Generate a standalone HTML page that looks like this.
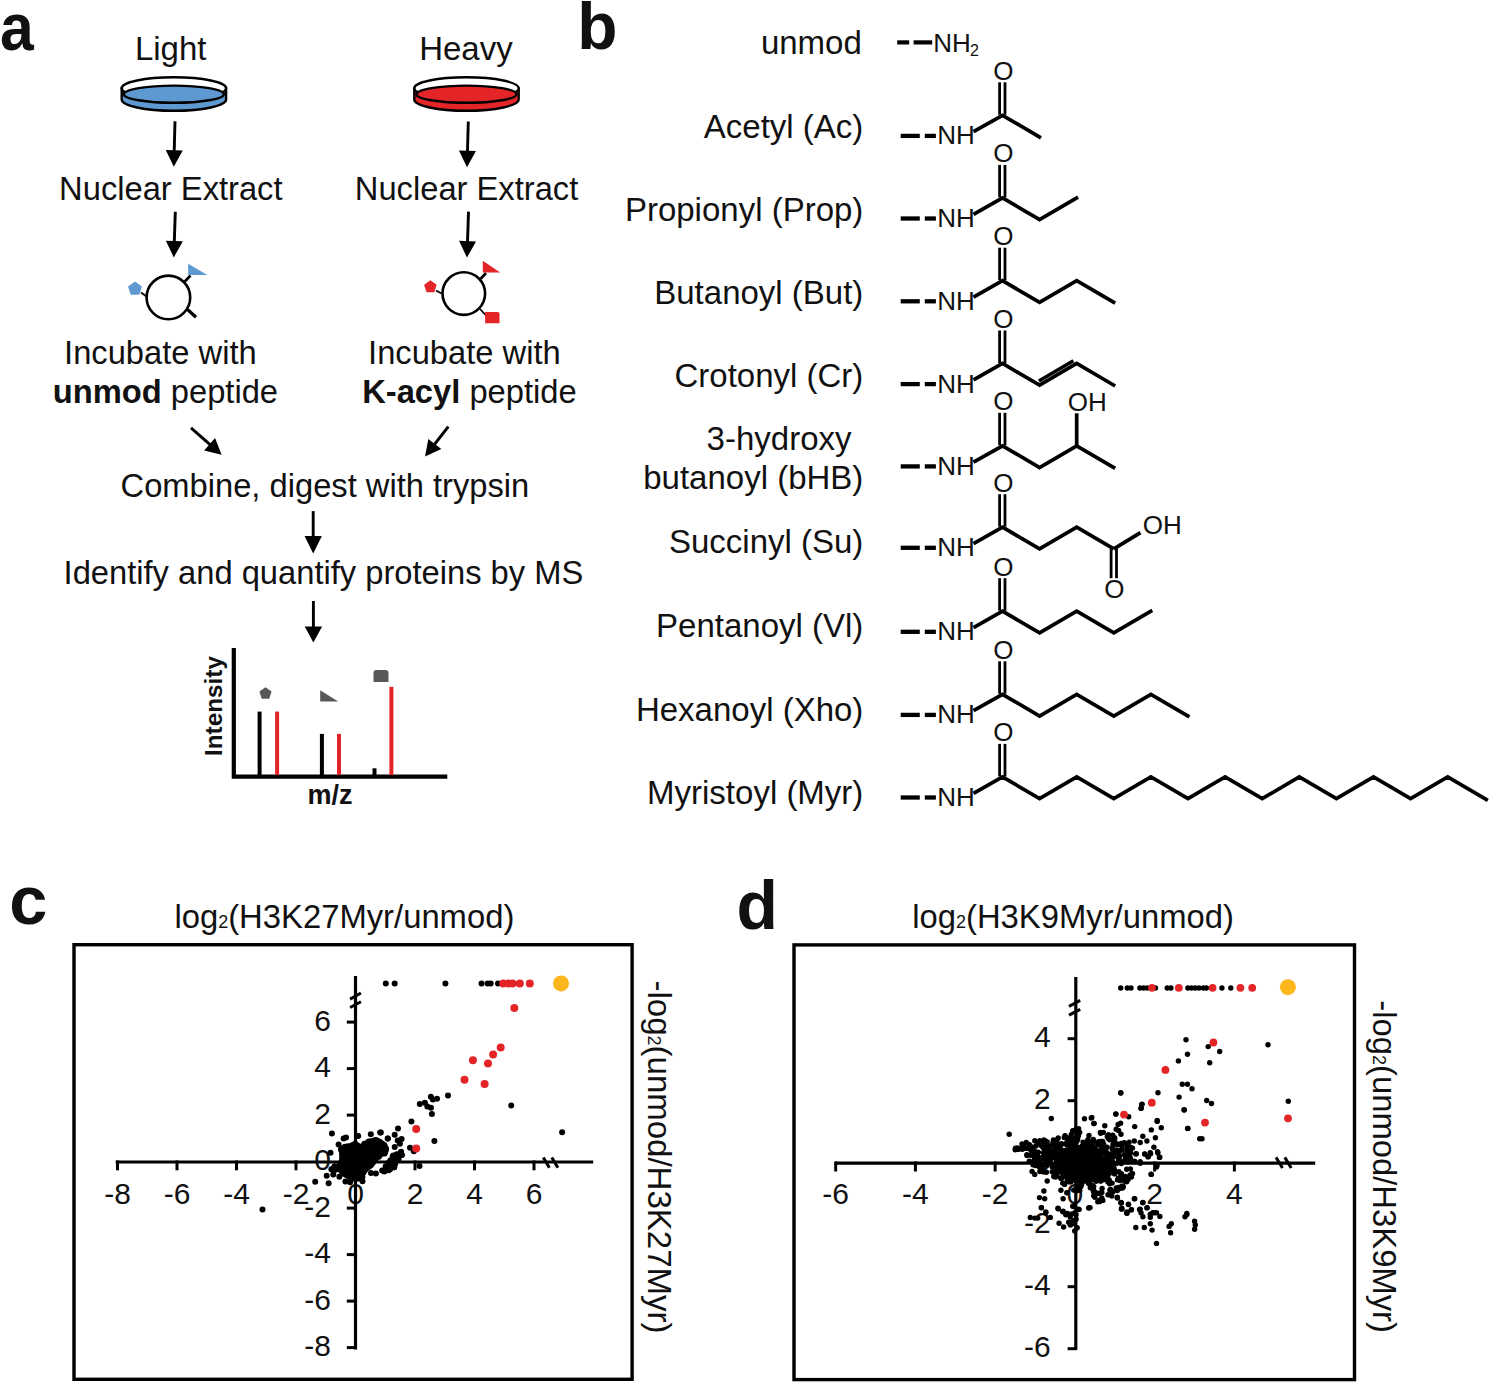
<!DOCTYPE html>
<html><head><meta charset="utf-8"><style>
html,body{margin:0;padding:0;background:#fff;}
svg{display:block;}
text{font-family:"Liberation Sans",sans-serif;fill:#111;}
</style></head><body>
<svg width="1489" height="1382" viewBox="0 0 1489 1382">
<rect width="1489" height="1382" fill="#fff"/>
<text transform="translate(0.1,50.3) scale(0.905,1)" font-size="67" font-weight="bold" fill="#1d1b1b">a</text>
<text x="577.2" y="48.6" font-size="65.8" font-weight="bold" fill="#1d1b1b">b</text>
<text x="134.89" y="60.40" font-size="33">Light</text>
<text x="419.19" y="60.20" font-size="33">Heavy</text>
<path d="M121.70,88.5 L121.70,99.5 A52.2,11.3 0 0 0 226.10,99.5 L226.10,88.5 Z" fill="#5e9ad1" stroke="#000" stroke-width="2.4"/>
<ellipse cx="173.90" cy="88.3" rx="52.2" ry="11" fill="#fff" stroke="#000" stroke-width="2.4"/>
<ellipse cx="173.90" cy="94.2" rx="50.00" ry="8.6" fill="#5e9ad1" stroke="#000" stroke-width="2.4"/>
<path d="M414.30,88.5 L414.30,99.5 A52.2,11.3 0 0 0 518.70,99.5 L518.70,88.5 Z" fill="#e32527" stroke="#000" stroke-width="2.4"/>
<ellipse cx="466.50" cy="88.3" rx="52.2" ry="11" fill="#fff" stroke="#000" stroke-width="2.4"/>
<ellipse cx="466.50" cy="94.2" rx="50.00" ry="8.6" fill="#e32527" stroke="#000" stroke-width="2.4"/>
<line x1="175.00" y1="121.30" x2="174.21" y2="151.31" stroke="#000" stroke-width="2.9" stroke-linecap="butt"/>
<polygon points="173.80,166.80 165.74,150.08 182.73,150.53" fill="#000"/>
<line x1="468.30" y1="121.50" x2="467.44" y2="151.81" stroke="#000" stroke-width="2.9" stroke-linecap="butt"/>
<polygon points="467.00,167.30 458.97,150.57 475.96,151.05" fill="#000"/>
<text x="59.12" y="199.90" font-size="32.7">Nuclear Extract</text>
<text x="354.82" y="199.90" font-size="32.7">Nuclear Extract</text>
<line x1="175.30" y1="211.80" x2="174.31" y2="241.91" stroke="#000" stroke-width="2.9" stroke-linecap="butt"/>
<polygon points="173.80,257.40 165.85,240.63 182.84,241.19" fill="#000"/>
<line x1="468.50" y1="211.60" x2="467.51" y2="242.11" stroke="#000" stroke-width="2.9" stroke-linecap="butt"/>
<polygon points="467.00,257.60 459.04,240.83 476.03,241.39" fill="#000"/>
<line x1="141.00" y1="292.50" x2="146.50" y2="296.50" stroke="#000" stroke-width="1.8" stroke-linecap="butt"/>
<polygon points="135.00,281.50 141.94,286.54 139.29,294.71 130.71,294.71 128.06,286.54" fill="#5e9ad1"/>
<line x1="184.80" y1="281.50" x2="190.50" y2="275.50" stroke="#000" stroke-width="2.6" stroke-linecap="butt"/>
<polygon points="188.2,263.8 188.2,275 207.3,275" fill="#5e9ad1"/>
<line x1="187.50" y1="309.50" x2="196.00" y2="317.30" stroke="#000" stroke-width="3.2" stroke-linecap="butt"/>
<circle cx="168.4" cy="297.4" r="21.8" fill="#fff" stroke="#000" stroke-width="2.6"/>
<line x1="436.00" y1="290.50" x2="441.50" y2="293.50" stroke="#000" stroke-width="1.8" stroke-linecap="butt"/>
<polygon points="430.40,280.20 436.68,284.76 434.28,292.14 426.52,292.14 424.12,284.76" fill="#e32527"/>
<line x1="480.50" y1="279.00" x2="486.00" y2="273.00" stroke="#000" stroke-width="2.6" stroke-linecap="butt"/>
<polygon points="482.8,260.7 482.8,272.4 500.2,272.4" fill="#e32527"/>
<line x1="480.00" y1="309.00" x2="486.50" y2="316.00" stroke="#000" stroke-width="1.8" stroke-linecap="butt"/>
<path d="M485.1,312 L497.5,312 Q499.5,312 499.5,314 L499.5,323.2 L485.1,323.2 Z" fill="#e32527"/>
<circle cx="463.8" cy="293.6" r="21.3" fill="#fff" stroke="#000" stroke-width="2.6"/>
<text x="64.08" y="364.00" font-size="32.7">Incubate with</text>
<text x="368.08" y="364.00" font-size="32.7">Incubate with</text>
<text x="52.77" y="402.5" font-size="32.7"><tspan font-weight="bold">unmod</tspan> peptide</text>
<text x="362.21" y="402.5" font-size="32.7"><tspan font-weight="bold">K-acyl</tspan> peptide</text>
<line x1="191.00" y1="427.80" x2="210.35" y2="444.88" stroke="#000" stroke-width="2.9" stroke-linecap="butt"/>
<polygon points="221.60,454.80 204.14,450.40 215.06,438.03" fill="#000"/>
<line x1="448.30" y1="426.60" x2="434.20" y2="444.75" stroke="#000" stroke-width="2.9" stroke-linecap="butt"/>
<polygon points="425.00,456.60 428.30,438.90 441.33,449.02" fill="#000"/>
<text x="120.54" y="497.20" font-size="32.7">Combine, digest with trypsin</text>
<line x1="313.20" y1="511.10" x2="313.20" y2="537.00" stroke="#000" stroke-width="2.9" stroke-linecap="butt"/>
<polygon points="313.20,553.50 304.55,536.00 321.85,536.00" fill="#000"/>
<text x="63.58" y="583.70" font-size="32.7">Identify and quantify proteins by MS</text>
<line x1="313.40" y1="601.00" x2="313.40" y2="627.40" stroke="#000" stroke-width="2.9" stroke-linecap="butt"/>
<polygon points="313.40,642.40 304.70,626.40 322.10,626.40" fill="#000"/>
<path d="M233.8,647.9 L233.8,776.6 L447.3,776.6" fill="none" stroke="#000" stroke-width="4.2" stroke-linejoin="miter"/>
<line x1="259.60" y1="711.60" x2="259.60" y2="775.00" stroke="#000" stroke-width="4.0" stroke-linecap="butt"/>
<line x1="277.10" y1="711.60" x2="277.10" y2="775.00" stroke="#e32527" stroke-width="4.0" stroke-linecap="butt"/>
<line x1="321.90" y1="733.90" x2="321.90" y2="775.00" stroke="#000" stroke-width="4.0" stroke-linecap="butt"/>
<line x1="339.00" y1="733.90" x2="339.00" y2="775.00" stroke="#e32527" stroke-width="4.0" stroke-linecap="butt"/>
<line x1="374.50" y1="768.30" x2="374.50" y2="775.00" stroke="#000" stroke-width="4.0" stroke-linecap="butt"/>
<line x1="391.40" y1="686.80" x2="391.40" y2="775.00" stroke="#e32527" stroke-width="4.0" stroke-linecap="butt"/>
<polygon points="265.50,687.20 271.59,691.62 269.26,698.78 261.74,698.78 259.41,691.62" fill="#58585a"/>
<polygon points="320.2,690.3 320.2,701.5 338.2,701.5" fill="#58585a"/>
<path d="M373.5,681.9 L373.5,673 Q373.5,670 376.5,670 L385.5,670 Q388.5,670 388.5,673 L388.5,681.9 Z" fill="#58585a"/>
<text transform="translate(222.3,756.0) rotate(-90)" font-size="24.3" font-weight="bold" fill="#000">Intensity</text>
<text x="307.62" y="803.50" font-size="27" font-weight="bold">m/z</text>
<text x="760.90" y="53.70" font-size="33">unmod</text>
<text x="703.83" y="137.50" font-size="33">Acetyl (Ac)</text>
<text x="624.92" y="220.60" font-size="33">Propionyl (Prop)</text>
<text x="654.25" y="303.70" font-size="33">Butanoyl (But)</text>
<text x="674.50" y="387.10" font-size="33">Crotonyl (Cr)</text>
<text x="706.61" y="450.30" font-size="33">3-hydroxy</text>
<text x="643.24" y="489.10" font-size="33">butanoyl (bHB)</text>
<text x="668.96" y="553.10" font-size="33">Succinyl (Su)</text>
<text x="656.08" y="636.70" font-size="33">Pentanoyl (Vl)</text>
<text x="635.91" y="720.90" font-size="33">Hexanoyl (Xho)</text>
<text x="647.06" y="803.90" font-size="33">Myristoyl (Myr)</text>
<line x1="897.20" y1="42.40" x2="909.20" y2="42.40" stroke="#000" stroke-width="4.2" stroke-linecap="butt"/>
<line x1="913.60" y1="42.40" x2="932.20" y2="42.40" stroke="#000" stroke-width="4.2" stroke-linecap="butt"/>
<text x="933.27" y="52.00" font-size="26">NH</text>
<text x="970.00" y="56.10" font-size="16">2</text>
<line x1="900.70" y1="135.90" x2="919.80" y2="135.90" stroke="#000" stroke-width="4.3" stroke-linecap="butt"/>
<line x1="924.80" y1="135.90" x2="935.90" y2="135.90" stroke="#000" stroke-width="4.3" stroke-linecap="butt"/>
<text x="937.27" y="144.30" font-size="26">NH</text>
<line x1="999.60" y1="82.30" x2="999.60" y2="114.80" stroke="#000" stroke-width="2.8" stroke-linecap="butt"/>
<line x1="1005.00" y1="82.30" x2="1005.00" y2="114.80" stroke="#000" stroke-width="2.8" stroke-linecap="butt"/>
<text x="1003.30" y="79.80" font-size="26" text-anchor="middle">O</text>
<polyline points="973.50,131.70 1002.50,115.30 1040.98,137.81" fill="none" stroke="#000" stroke-width="3.7" stroke-linejoin="miter" stroke-linecap="butt" stroke-miterlimit="10"/>
<line x1="900.70" y1="218.50" x2="919.80" y2="218.50" stroke="#000" stroke-width="4.3" stroke-linecap="butt"/>
<line x1="924.80" y1="218.50" x2="935.90" y2="218.50" stroke="#000" stroke-width="4.3" stroke-linecap="butt"/>
<text x="937.27" y="226.90" font-size="26">NH</text>
<line x1="999.60" y1="164.90" x2="999.60" y2="197.40" stroke="#000" stroke-width="2.8" stroke-linecap="butt"/>
<line x1="1005.00" y1="164.90" x2="1005.00" y2="197.40" stroke="#000" stroke-width="2.8" stroke-linecap="butt"/>
<text x="1003.30" y="162.40" font-size="26" text-anchor="middle">O</text>
<polyline points="973.50,214.30 1002.50,197.90 1039.60,219.60 1078.08,197.09" fill="none" stroke="#000" stroke-width="3.7" stroke-linejoin="miter" stroke-linecap="butt" stroke-miterlimit="10"/>
<line x1="900.70" y1="301.30" x2="919.80" y2="301.30" stroke="#000" stroke-width="4.3" stroke-linecap="butt"/>
<line x1="924.80" y1="301.30" x2="935.90" y2="301.30" stroke="#000" stroke-width="4.3" stroke-linecap="butt"/>
<text x="937.27" y="309.70" font-size="26">NH</text>
<line x1="999.60" y1="247.70" x2="999.60" y2="280.20" stroke="#000" stroke-width="2.8" stroke-linecap="butt"/>
<line x1="1005.00" y1="247.70" x2="1005.00" y2="280.20" stroke="#000" stroke-width="2.8" stroke-linecap="butt"/>
<text x="1003.30" y="245.20" font-size="26" text-anchor="middle">O</text>
<polyline points="973.50,297.10 1002.50,280.70 1039.60,302.40 1076.70,280.70 1115.18,303.21" fill="none" stroke="#000" stroke-width="3.7" stroke-linejoin="miter" stroke-linecap="butt" stroke-miterlimit="10"/>
<line x1="900.70" y1="384.10" x2="919.80" y2="384.10" stroke="#000" stroke-width="4.3" stroke-linecap="butt"/>
<line x1="924.80" y1="384.10" x2="935.90" y2="384.10" stroke="#000" stroke-width="4.3" stroke-linecap="butt"/>
<text x="937.27" y="392.50" font-size="26">NH</text>
<line x1="999.60" y1="330.50" x2="999.60" y2="363.00" stroke="#000" stroke-width="2.8" stroke-linecap="butt"/>
<line x1="1005.00" y1="330.50" x2="1005.00" y2="363.00" stroke="#000" stroke-width="2.8" stroke-linecap="butt"/>
<text x="1003.30" y="328.00" font-size="26" text-anchor="middle">O</text>
<polyline points="973.50,379.90 1002.50,363.50 1039.60,385.20 1076.70,363.50 1115.18,386.01" fill="none" stroke="#000" stroke-width="3.7" stroke-linejoin="miter" stroke-linecap="butt" stroke-miterlimit="10"/>
<line x1="1038.88" y1="380.99" x2="1073.39" y2="360.80" stroke="#000" stroke-width="3.5" stroke-linecap="butt"/>
<line x1="900.70" y1="466.40" x2="919.80" y2="466.40" stroke="#000" stroke-width="4.3" stroke-linecap="butt"/>
<line x1="924.80" y1="466.40" x2="935.90" y2="466.40" stroke="#000" stroke-width="4.3" stroke-linecap="butt"/>
<text x="937.27" y="474.80" font-size="26">NH</text>
<line x1="999.60" y1="412.80" x2="999.60" y2="445.30" stroke="#000" stroke-width="2.8" stroke-linecap="butt"/>
<line x1="1005.00" y1="412.80" x2="1005.00" y2="445.30" stroke="#000" stroke-width="2.8" stroke-linecap="butt"/>
<text x="1003.30" y="410.30" font-size="26" text-anchor="middle">O</text>
<polyline points="973.50,462.20 1002.50,445.80 1039.60,467.50 1076.70,445.80 1115.18,468.31" fill="none" stroke="#000" stroke-width="3.7" stroke-linejoin="miter" stroke-linecap="butt" stroke-miterlimit="10"/>
<line x1="1076.70" y1="445.80" x2="1076.70" y2="413.30" stroke="#000" stroke-width="3.7" stroke-linecap="butt"/>
<text x="1067.67" y="410.60" font-size="26">OH</text>
<line x1="900.70" y1="547.80" x2="919.80" y2="547.80" stroke="#000" stroke-width="4.3" stroke-linecap="butt"/>
<line x1="924.80" y1="547.80" x2="935.90" y2="547.80" stroke="#000" stroke-width="4.3" stroke-linecap="butt"/>
<text x="937.27" y="556.20" font-size="26">NH</text>
<line x1="999.60" y1="494.20" x2="999.60" y2="526.70" stroke="#000" stroke-width="2.8" stroke-linecap="butt"/>
<line x1="1005.00" y1="494.20" x2="1005.00" y2="526.70" stroke="#000" stroke-width="2.8" stroke-linecap="butt"/>
<text x="1003.30" y="491.70" font-size="26" text-anchor="middle">O</text>
<polyline points="973.50,543.60 1002.50,527.20 1039.60,548.90 1076.70,527.20 1113.80,548.90" fill="none" stroke="#000" stroke-width="3.7" stroke-linejoin="miter" stroke-linecap="butt" stroke-miterlimit="10"/>
<polyline points="1113.80,548.90 1140.50,532.70" fill="none" stroke="#000" stroke-width="3.7" stroke-linejoin="miter" stroke-linecap="butt" stroke-miterlimit="10"/>
<text x="1142.67" y="534.40" font-size="26">OH</text>
<line x1="1111.10" y1="548.90" x2="1111.10" y2="578.20" stroke="#000" stroke-width="2.8" stroke-linecap="butt"/>
<line x1="1116.50" y1="548.90" x2="1116.50" y2="578.20" stroke="#000" stroke-width="2.8" stroke-linecap="butt"/>
<text x="1114.40" y="597.70" font-size="26" text-anchor="middle">O</text>
<line x1="900.70" y1="631.80" x2="919.80" y2="631.80" stroke="#000" stroke-width="4.3" stroke-linecap="butt"/>
<line x1="924.80" y1="631.80" x2="935.90" y2="631.80" stroke="#000" stroke-width="4.3" stroke-linecap="butt"/>
<text x="937.27" y="640.20" font-size="26">NH</text>
<line x1="999.60" y1="578.20" x2="999.60" y2="610.70" stroke="#000" stroke-width="2.8" stroke-linecap="butt"/>
<line x1="1005.00" y1="578.20" x2="1005.00" y2="610.70" stroke="#000" stroke-width="2.8" stroke-linecap="butt"/>
<text x="1003.30" y="575.70" font-size="26" text-anchor="middle">O</text>
<polyline points="973.50,627.60 1002.50,611.20 1039.60,632.90 1076.70,611.20 1113.80,632.90 1152.28,610.39" fill="none" stroke="#000" stroke-width="3.7" stroke-linejoin="miter" stroke-linecap="butt" stroke-miterlimit="10"/>
<line x1="900.70" y1="714.90" x2="919.80" y2="714.90" stroke="#000" stroke-width="4.3" stroke-linecap="butt"/>
<line x1="924.80" y1="714.90" x2="935.90" y2="714.90" stroke="#000" stroke-width="4.3" stroke-linecap="butt"/>
<text x="937.27" y="723.30" font-size="26">NH</text>
<line x1="999.60" y1="661.30" x2="999.60" y2="693.80" stroke="#000" stroke-width="2.8" stroke-linecap="butt"/>
<line x1="1005.00" y1="661.30" x2="1005.00" y2="693.80" stroke="#000" stroke-width="2.8" stroke-linecap="butt"/>
<text x="1003.30" y="658.80" font-size="26" text-anchor="middle">O</text>
<polyline points="973.50,710.70 1002.50,694.30 1039.60,716.00 1076.70,694.30 1113.80,716.00 1150.90,694.30 1189.38,716.81" fill="none" stroke="#000" stroke-width="3.7" stroke-linejoin="miter" stroke-linecap="butt" stroke-miterlimit="10"/>
<line x1="900.70" y1="797.50" x2="919.80" y2="797.50" stroke="#000" stroke-width="4.3" stroke-linecap="butt"/>
<line x1="924.80" y1="797.50" x2="935.90" y2="797.50" stroke="#000" stroke-width="4.3" stroke-linecap="butt"/>
<text x="937.27" y="805.90" font-size="26">NH</text>
<line x1="999.60" y1="743.90" x2="999.60" y2="776.40" stroke="#000" stroke-width="2.8" stroke-linecap="butt"/>
<line x1="1005.00" y1="743.90" x2="1005.00" y2="776.40" stroke="#000" stroke-width="2.8" stroke-linecap="butt"/>
<text x="1003.30" y="741.40" font-size="26" text-anchor="middle">O</text>
<polyline points="973.50,793.30 1002.50,776.90 1039.60,798.60 1076.70,776.90 1113.80,798.60 1150.90,776.90 1188.00,798.60 1225.10,776.90 1262.20,798.60 1299.30,776.90 1336.40,798.60 1373.50,776.90 1410.60,798.60 1447.70,776.90 1487.82,800.37" fill="none" stroke="#000" stroke-width="3.7" stroke-linejoin="miter" stroke-linecap="butt" stroke-miterlimit="10"/>
<text x="9.2" y="924.4" font-size="68.5" font-weight="bold" fill="#1d1b1b">c</text>
<text x="174.40" y="927.5" font-size="32.8">log<tspan font-size="18">2</tspan>(H3K27Myr/unmod)</text>
<rect x="74" y="944.7" width="558.1" height="434.6" fill="none" stroke="#000" stroke-width="3.4"/>
<text transform="translate(648.3,980.5) rotate(90)" font-size="33">-log<tspan font-size="18">2</tspan>(unmod/H3K27Myr)</text>
<line x1="115.70" y1="1162.00" x2="593.20" y2="1162.00" stroke="#000" stroke-width="3.2" stroke-linecap="butt"/>
<line x1="117.50" y1="1160.50" x2="117.50" y2="1170.30" stroke="#000" stroke-width="3.0" stroke-linecap="butt"/>
<text x="117.50" y="1203.90" font-size="30" text-anchor="middle">-8</text>
<line x1="177.00" y1="1160.50" x2="177.00" y2="1170.30" stroke="#000" stroke-width="3.0" stroke-linecap="butt"/>
<text x="177.00" y="1203.90" font-size="30" text-anchor="middle">-6</text>
<line x1="236.50" y1="1160.50" x2="236.50" y2="1170.30" stroke="#000" stroke-width="3.0" stroke-linecap="butt"/>
<text x="236.50" y="1203.90" font-size="30" text-anchor="middle">-4</text>
<line x1="296.00" y1="1160.50" x2="296.00" y2="1170.30" stroke="#000" stroke-width="3.0" stroke-linecap="butt"/>
<text x="296.00" y="1203.90" font-size="30" text-anchor="middle">-2</text>
<text x="355.50" y="1203.90" font-size="30" text-anchor="middle">0</text>
<line x1="415.00" y1="1160.50" x2="415.00" y2="1170.30" stroke="#000" stroke-width="3.0" stroke-linecap="butt"/>
<text x="415.00" y="1203.90" font-size="30" text-anchor="middle">2</text>
<line x1="474.50" y1="1160.50" x2="474.50" y2="1170.30" stroke="#000" stroke-width="3.0" stroke-linecap="butt"/>
<text x="474.50" y="1203.90" font-size="30" text-anchor="middle">4</text>
<line x1="534.00" y1="1160.50" x2="534.00" y2="1170.30" stroke="#000" stroke-width="3.0" stroke-linecap="butt"/>
<text x="534.00" y="1203.90" font-size="30" text-anchor="middle">6</text>
<line x1="355.50" y1="975.90" x2="355.50" y2="1349.50" stroke="#000" stroke-width="3.2" stroke-linecap="butt"/>
<line x1="346.80" y1="1347.60" x2="357.00" y2="1347.60" stroke="#000" stroke-width="3.0" stroke-linecap="butt"/>
<text x="331.00" y="1356.00" font-size="30" text-anchor="end">-8</text>
<line x1="346.80" y1="1301.10" x2="357.00" y2="1301.10" stroke="#000" stroke-width="3.0" stroke-linecap="butt"/>
<text x="331.00" y="1309.50" font-size="30" text-anchor="end">-6</text>
<line x1="346.80" y1="1254.60" x2="357.00" y2="1254.60" stroke="#000" stroke-width="3.0" stroke-linecap="butt"/>
<text x="331.00" y="1263.00" font-size="30" text-anchor="end">-4</text>
<line x1="346.80" y1="1208.10" x2="357.00" y2="1208.10" stroke="#000" stroke-width="3.0" stroke-linecap="butt"/>
<text x="331.00" y="1216.50" font-size="30" text-anchor="end">-2</text>
<text x="331.00" y="1170.00" font-size="30" text-anchor="end">0</text>
<line x1="346.80" y1="1115.10" x2="357.00" y2="1115.10" stroke="#000" stroke-width="3.0" stroke-linecap="butt"/>
<text x="331.00" y="1123.50" font-size="30" text-anchor="end">2</text>
<line x1="346.80" y1="1068.60" x2="357.00" y2="1068.60" stroke="#000" stroke-width="3.0" stroke-linecap="butt"/>
<text x="331.00" y="1077.00" font-size="30" text-anchor="end">4</text>
<line x1="346.80" y1="1022.10" x2="357.00" y2="1022.10" stroke="#000" stroke-width="3.0" stroke-linecap="butt"/>
<text x="331.00" y="1030.50" font-size="30" text-anchor="end">6</text>
<line x1="350.10" y1="999.10" x2="360.90" y2="993.00" stroke="#000" stroke-width="3.0" stroke-linecap="butt"/>
<line x1="350.10" y1="1007.50" x2="360.90" y2="1001.70" stroke="#000" stroke-width="3.0" stroke-linecap="butt"/>
<line x1="543.30" y1="1157.40" x2="549.40" y2="1167.80" stroke="#000" stroke-width="3.0" stroke-linecap="butt"/>
<line x1="551.80" y1="1157.40" x2="557.90" y2="1167.80" stroke="#000" stroke-width="3.0" stroke-linecap="butt"/>
<text x="736.4" y="928.6" font-size="67.8" font-weight="bold" fill="#1d1b1b">d</text>
<text x="912.20" y="927.7" font-size="32.8">log<tspan font-size="18">2</tspan>(H3K9Myr/unmod)</text>
<rect x="794" y="944.9" width="560.5" height="434.7" fill="none" stroke="#000" stroke-width="3.4"/>
<text transform="translate(1373,1000.3) rotate(90)" font-size="32.8">-log<tspan font-size="18">2</tspan>(unmod/H3K9Myr)</text>
<line x1="835.00" y1="1163.20" x2="1315.20" y2="1163.20" stroke="#000" stroke-width="3.2" stroke-linecap="butt"/>
<line x1="835.68" y1="1161.50" x2="835.68" y2="1171.50" stroke="#000" stroke-width="3.0" stroke-linecap="butt"/>
<text x="835.68" y="1204.40" font-size="30" text-anchor="middle">-6</text>
<line x1="915.42" y1="1161.50" x2="915.42" y2="1171.50" stroke="#000" stroke-width="3.0" stroke-linecap="butt"/>
<text x="915.42" y="1204.40" font-size="30" text-anchor="middle">-4</text>
<line x1="995.16" y1="1161.50" x2="995.16" y2="1171.50" stroke="#000" stroke-width="3.0" stroke-linecap="butt"/>
<text x="995.16" y="1204.40" font-size="30" text-anchor="middle">-2</text>
<text x="1074.90" y="1204.40" font-size="30" text-anchor="middle">0</text>
<line x1="1154.64" y1="1161.50" x2="1154.64" y2="1171.50" stroke="#000" stroke-width="3.0" stroke-linecap="butt"/>
<text x="1154.64" y="1204.40" font-size="30" text-anchor="middle">2</text>
<line x1="1234.38" y1="1161.50" x2="1234.38" y2="1171.50" stroke="#000" stroke-width="3.0" stroke-linecap="butt"/>
<text x="1234.38" y="1204.40" font-size="30" text-anchor="middle">4</text>
<line x1="1075.80" y1="977.00" x2="1075.80" y2="1349.50" stroke="#000" stroke-width="3.2" stroke-linecap="butt"/>
<line x1="1067.60" y1="1348.70" x2="1077.00" y2="1348.70" stroke="#000" stroke-width="3.0" stroke-linecap="butt"/>
<text x="1050.60" y="1357.10" font-size="30" text-anchor="end">-6</text>
<line x1="1067.60" y1="1286.70" x2="1077.00" y2="1286.70" stroke="#000" stroke-width="3.0" stroke-linecap="butt"/>
<text x="1050.60" y="1295.10" font-size="30" text-anchor="end">-4</text>
<line x1="1067.60" y1="1224.70" x2="1077.00" y2="1224.70" stroke="#000" stroke-width="3.0" stroke-linecap="butt"/>
<text x="1050.60" y="1233.10" font-size="30" text-anchor="end">-2</text>
<text x="1050.60" y="1171.10" font-size="30" text-anchor="end">0</text>
<line x1="1067.60" y1="1100.70" x2="1077.00" y2="1100.70" stroke="#000" stroke-width="3.0" stroke-linecap="butt"/>
<text x="1050.60" y="1109.10" font-size="30" text-anchor="end">2</text>
<line x1="1067.60" y1="1038.70" x2="1077.00" y2="1038.70" stroke="#000" stroke-width="3.0" stroke-linecap="butt"/>
<text x="1050.60" y="1047.10" font-size="30" text-anchor="end">4</text>
<line x1="1069.00" y1="1006.30" x2="1080.20" y2="1000.40" stroke="#000" stroke-width="3.0" stroke-linecap="butt"/>
<line x1="1069.00" y1="1015.20" x2="1080.20" y2="1009.30" stroke="#000" stroke-width="3.0" stroke-linecap="butt"/>
<line x1="1276.00" y1="1157.40" x2="1282.50" y2="1168.00" stroke="#000" stroke-width="3.0" stroke-linecap="butt"/>
<line x1="1284.80" y1="1157.40" x2="1291.20" y2="1168.00" stroke="#000" stroke-width="3.0" stroke-linecap="butt"/>
<polygon points="339.1,1148.5 343.7,1145.1 350.5,1143.9 355.1,1141.6 360.8,1145.1 365.3,1141.6 369.9,1139.4 376.8,1138.2 381.3,1140.5 385.9,1143.9 388.2,1148.5 387.0,1153.1 381.3,1156.5 377.9,1158.8 375.6,1162.2 372.2,1166.8 367.6,1170.2 364.2,1174.7 363.1,1179.3 358.5,1180.5 353.9,1180.5 349.4,1179.3 345.9,1177.0 341.4,1174.7 339.1,1171.3 335.7,1170.2 332.2,1171.3 330.0,1170.2 332.2,1166.8 337.9,1164.5 340.2,1159.9 340.2,1153.1" fill="#000" stroke="#000" stroke-width="2" stroke-linejoin="round"/>
<polygon points="381.3,1171.3 384.7,1166.8 389.3,1159.9 392.7,1155.3 397.3,1153.1 401.9,1150.8 403.0,1154.2 399.6,1158.8 396.2,1164.5 392.7,1167.9 388.2,1171.3 383.6,1172.5" fill="#000" stroke="#000" stroke-width="2" stroke-linejoin="round"/>
<g fill="#000"><circle cx="341.1" cy="1149.8" r="3.0"/><circle cx="345.3" cy="1146.9" r="3.0"/><circle cx="351.5" cy="1146.1" r="3.0"/><circle cx="355.4" cy="1144.0" r="3.0"/><circle cx="360.3" cy="1147.4" r="3.0"/><circle cx="364.4" cy="1143.8" r="3.0"/><circle cx="368.7" cy="1141.5" r="3.0"/><circle cx="375.2" cy="1140.0" r="3.0"/><circle cx="379.4" cy="1142.0" r="3.0"/><circle cx="383.8" cy="1145.1" r="3.0"/><circle cx="386.0" cy="1149.3" r="3.0"/><circle cx="384.7" cy="1153.6" r="3.0"/><circle cx="378.9" cy="1156.8" r="3.0"/><circle cx="375.5" cy="1158.9" r="3.0"/><circle cx="373.2" cy="1161.9" r="3.0"/><circle cx="370.0" cy="1165.8" r="3.0"/><circle cx="365.9" cy="1168.5" r="3.0"/><circle cx="363.2" cy="1172.5" r="3.0"/><circle cx="362.4" cy="1177.0" r="3.0"/><circle cx="358.4" cy="1178.1" r="3.0"/><circle cx="354.3" cy="1178.1" r="3.0"/><circle cx="350.3" cy="1177.1" r="3.0"/><circle cx="347.3" cy="1175.0" r="3.0"/><circle cx="343.2" cy="1173.1" r="3.0"/><circle cx="341.1" cy="1170.0" r="3.0"/><circle cx="337.9" cy="1169.2" r="3.0"/><circle cx="334.4" cy="1170.3" r="3.0"/><circle cx="332.2" cy="1169.4" r="3.0"/><circle cx="334.5" cy="1166.2" r="3.0"/><circle cx="340.2" cy="1164.0" r="3.0"/><circle cx="342.6" cy="1159.9" r="3.0"/><circle cx="342.4" cy="1154.0" r="3.0"/><circle cx="382.2" cy="1170.5" r="3.0"/><circle cx="385.7" cy="1166.2" r="3.0"/><circle cx="388.2" cy="1163.1" r="3.0"/><circle cx="390.3" cy="1160.6" r="3.0"/><circle cx="392.7" cy="1156.5" r="3.0"/><circle cx="396.7" cy="1154.2" r="3.0"/><circle cx="401.1" cy="1151.7" r="3.0"/><circle cx="402.0" cy="1154.9" r="3.0"/><circle cx="398.5" cy="1159.3" r="3.0"/><circle cx="395.2" cy="1163.9" r="3.0"/><circle cx="392.7" cy="1166.7" r="3.0"/><circle cx="388.7" cy="1170.2" r="3.0"/><circle cx="384.4" cy="1171.6" r="3.0"/></g>
<g fill="#000"><circle cx="385.8" cy="983.6" r="3.0"/><circle cx="394.7" cy="983.6" r="3.0"/><circle cx="445.4" cy="983.6" r="3.0"/><circle cx="481.5" cy="983.5" r="3.0"/><circle cx="487.6" cy="983.5" r="3.0"/><circle cx="490.7" cy="983.5" r="3.0"/><circle cx="498.0" cy="983.5" r="3.0"/><circle cx="511.2" cy="1105.6" r="3.0"/><circle cx="562.1" cy="1132.2" r="3.0"/><circle cx="448.0" cy="1095.4" r="3.0"/><circle cx="430.9" cy="1096.8" r="3.0"/><circle cx="432.9" cy="1099.5" r="3.0"/><circle cx="437.0" cy="1098.7" r="3.0"/><circle cx="419.8" cy="1103.9" r="3.0"/><circle cx="424.9" cy="1102.7" r="3.0"/><circle cx="427.3" cy="1106.5" r="3.0"/><circle cx="431.0" cy="1107.8" r="3.0"/><circle cx="431.9" cy="1114.0" r="3.0"/><circle cx="411.4" cy="1121.5" r="3.0"/><circle cx="398.0" cy="1128.4" r="3.0"/><circle cx="380.8" cy="1132.4" r="3.0"/><circle cx="394.7" cy="1134.7" r="3.0"/><circle cx="387.9" cy="1138.5" r="3.0"/><circle cx="401.6" cy="1139.1" r="3.0"/><circle cx="397.7" cy="1140.5" r="3.0"/><circle cx="399.9" cy="1143.7" r="3.0"/><circle cx="394.7" cy="1147.0" r="3.0"/><circle cx="400.5" cy="1152.8" r="3.0"/><circle cx="410.0" cy="1147.8" r="3.0"/><circle cx="413.8" cy="1151.2" r="3.0"/><circle cx="434.4" cy="1141.1" r="3.0"/><circle cx="419.5" cy="1166.1" r="3.0"/><circle cx="262.5" cy="1209.4" r="3.0"/><circle cx="331.9" cy="1133.5" r="3.0"/><circle cx="343.6" cy="1138.5" r="3.0"/><circle cx="346.0" cy="1137.6" r="3.0"/><circle cx="338.6" cy="1144.4" r="3.0"/><circle cx="330.5" cy="1152.7" r="3.0"/><circle cx="358.2" cy="1135.9" r="3.0"/><circle cx="370.8" cy="1134.2" r="3.0"/><circle cx="380.2" cy="1132.5" r="3.0"/><circle cx="387.7" cy="1138.5" r="3.0"/><circle cx="331.4" cy="1169.2" r="3.0"/><circle cx="333.3" cy="1174.4" r="3.0"/><circle cx="326.7" cy="1175.7" r="3.0"/><circle cx="328.6" cy="1183.2" r="3.0"/><circle cx="339.4" cy="1176.8" r="3.0"/><circle cx="345.4" cy="1181.5" r="3.0"/><circle cx="350.1" cy="1182.2" r="3.0"/><circle cx="362.5" cy="1181.2" r="3.0"/><circle cx="371.0" cy="1173.1" r="3.0"/><circle cx="375.9" cy="1173.6" r="3.0"/><circle cx="383.9" cy="1171.0" r="3.0"/><circle cx="388.8" cy="1169.3" r="3.0"/><circle cx="394.2" cy="1167.2" r="3.0"/><circle cx="315.2" cy="1181.7" r="3.0"/><circle cx="393.3" cy="1155.6" r="3.0"/><circle cx="396.9" cy="1159.2" r="3.0"/><circle cx="394.1" cy="1167.3" r="3.0"/><circle cx="390.1" cy="1169.3" r="3.0"/><circle cx="384.4" cy="1170.5" r="3.0"/></g>
<g fill="#e32527"><circle cx="503.2" cy="983.4" r="4.0"/><circle cx="508.5" cy="983.4" r="4.0"/><circle cx="512.5" cy="983.4" r="4.0"/><circle cx="519.8" cy="983.4" r="4.0"/><circle cx="529.8" cy="983.4" r="4.0"/><circle cx="514.3" cy="1007.9" r="4.0"/><circle cx="500.7" cy="1047.5" r="4.0"/><circle cx="493.1" cy="1054.4" r="4.0"/><circle cx="472.9" cy="1060.2" r="4.0"/><circle cx="488.0" cy="1063.6" r="4.0"/><circle cx="464.5" cy="1079.7" r="4.0"/><circle cx="484.6" cy="1084.0" r="4.0"/><circle cx="416.2" cy="1128.9" r="4.0"/><circle cx="416.2" cy="1148.4" r="4.0"/></g>
<g fill="#fdb71c"><circle cx="561.0" cy="983.4" r="8.0"/></g>
<polygon points="1054.0,1156.0 1064.3,1149.1 1077.8,1145.6 1088.3,1147.4 1098.7,1150.8 1104.7,1158.6 1103.7,1168.8 1099.2,1176.3 1091.5,1181.5 1082.0,1183.3 1072.5,1181.5 1063.8,1177.3 1056.6,1168.8" fill="#000" stroke="#000" stroke-width="2" stroke-linejoin="round"/>
<g fill="#000"><circle cx="1055.9" cy="1156.6" r="2.7"/><circle cx="1059.2" cy="1154.6" r="2.7"/><circle cx="1062.5" cy="1152.5" r="2.7"/><circle cx="1065.8" cy="1150.5" r="2.7"/><circle cx="1070.0" cy="1149.5" r="2.7"/><circle cx="1074.1" cy="1148.6" r="2.7"/><circle cx="1078.2" cy="1147.6" r="2.7"/><circle cx="1082.9" cy="1148.5" r="2.7"/><circle cx="1087.6" cy="1149.3" r="2.7"/><circle cx="1092.3" cy="1150.7" r="2.7"/><circle cx="1097.2" cy="1152.1" r="2.7"/><circle cx="1099.9" cy="1155.6" r="2.7"/><circle cx="1102.8" cy="1159.1" r="2.7"/><circle cx="1102.2" cy="1163.8" r="2.7"/><circle cx="1101.7" cy="1168.5" r="2.7"/><circle cx="1099.6" cy="1171.8" r="2.7"/><circle cx="1097.5" cy="1175.2" r="2.7"/><circle cx="1093.9" cy="1177.5" r="2.7"/><circle cx="1090.4" cy="1179.8" r="2.7"/><circle cx="1086.2" cy="1180.5" r="2.7"/><circle cx="1081.9" cy="1181.3" r="2.7"/><circle cx="1077.7" cy="1180.5" r="2.7"/><circle cx="1073.4" cy="1179.7" r="2.7"/><circle cx="1069.5" cy="1177.9" r="2.7"/><circle cx="1065.4" cy="1176.2" r="2.7"/><circle cx="1062.1" cy="1172.3" r="2.7"/><circle cx="1058.6" cy="1168.5" r="2.7"/><circle cx="1057.7" cy="1164.6" r="2.7"/><circle cx="1056.8" cy="1160.6" r="2.7"/></g>
<g fill="#000"><circle cx="1053.4" cy="1140.0" r="2.7"/><circle cx="1029.6" cy="1145.3" r="2.7"/><circle cx="1116.9" cy="1150.1" r="2.7"/><circle cx="1022.0" cy="1144.0" r="2.7"/><circle cx="1052.2" cy="1171.8" r="2.7"/><circle cx="1109.3" cy="1180.1" r="2.7"/><circle cx="1043.9" cy="1171.0" r="2.7"/><circle cx="1101.6" cy="1150.0" r="2.7"/><circle cx="1064.6" cy="1184.4" r="2.7"/><circle cx="1033.0" cy="1164.7" r="2.7"/><circle cx="1105.7" cy="1170.9" r="2.7"/><circle cx="1118.9" cy="1151.9" r="2.7"/><circle cx="1112.5" cy="1149.8" r="2.7"/><circle cx="1060.7" cy="1177.9" r="2.7"/><circle cx="1030.3" cy="1147.1" r="2.7"/><circle cx="1112.2" cy="1192.2" r="2.7"/><circle cx="1048.0" cy="1159.3" r="2.7"/><circle cx="1035.8" cy="1145.9" r="2.7"/><circle cx="1042.6" cy="1164.4" r="2.7"/><circle cx="1128.1" cy="1179.5" r="2.7"/><circle cx="1121.8" cy="1186.1" r="2.7"/><circle cx="1118.8" cy="1187.4" r="2.7"/><circle cx="1039.7" cy="1140.8" r="2.7"/><circle cx="1027.0" cy="1155.6" r="2.7"/><circle cx="1087.9" cy="1139.8" r="2.7"/><circle cx="1044.9" cy="1154.4" r="2.7"/><circle cx="1058.2" cy="1137.9" r="2.7"/><circle cx="1055.6" cy="1148.3" r="2.7"/><circle cx="1113.4" cy="1140.7" r="2.7"/><circle cx="1077.7" cy="1139.6" r="2.7"/><circle cx="1117.5" cy="1179.9" r="2.7"/><circle cx="1045.9" cy="1155.8" r="2.7"/><circle cx="1078.2" cy="1186.0" r="2.7"/><circle cx="1054.1" cy="1145.2" r="2.7"/><circle cx="1116.2" cy="1188.0" r="2.7"/><circle cx="1112.1" cy="1183.1" r="2.7"/><circle cx="1041.8" cy="1166.8" r="2.7"/><circle cx="1018.2" cy="1149.4" r="2.7"/><circle cx="1128.5" cy="1161.7" r="2.7"/><circle cx="1128.4" cy="1155.6" r="2.7"/><circle cx="1041.1" cy="1145.5" r="2.7"/><circle cx="1038.3" cy="1143.9" r="2.7"/><circle cx="1114.7" cy="1164.0" r="2.7"/><circle cx="1092.5" cy="1187.5" r="2.7"/><circle cx="1123.0" cy="1186.2" r="2.7"/><circle cx="1130.3" cy="1157.9" r="2.7"/><circle cx="1101.0" cy="1141.4" r="2.7"/><circle cx="1122.4" cy="1188.0" r="2.7"/><circle cx="1131.4" cy="1177.1" r="2.7"/><circle cx="1056.5" cy="1169.1" r="2.7"/><circle cx="1130.2" cy="1176.5" r="2.7"/><circle cx="1113.0" cy="1144.4" r="2.7"/><circle cx="1044.8" cy="1150.4" r="2.7"/><circle cx="1043.5" cy="1171.9" r="2.7"/><circle cx="1045.7" cy="1159.6" r="2.7"/><circle cx="1067.2" cy="1142.3" r="2.7"/><circle cx="1035.4" cy="1163.6" r="2.7"/><circle cx="1053.6" cy="1166.9" r="2.7"/><circle cx="1080.9" cy="1186.4" r="2.7"/><circle cx="1044.4" cy="1149.2" r="2.7"/><circle cx="1106.6" cy="1166.1" r="2.7"/><circle cx="1081.6" cy="1184.6" r="2.7"/><circle cx="1123.3" cy="1161.4" r="2.7"/><circle cx="1098.0" cy="1193.2" r="2.7"/><circle cx="1126.8" cy="1147.9" r="2.7"/><circle cx="1114.7" cy="1139.0" r="2.7"/><circle cx="1029.3" cy="1161.3" r="2.7"/><circle cx="1023.5" cy="1146.5" r="2.7"/><circle cx="1108.0" cy="1194.7" r="2.7"/><circle cx="1093.3" cy="1139.4" r="2.7"/><circle cx="1034.1" cy="1160.5" r="2.7"/><circle cx="1038.2" cy="1152.2" r="2.7"/><circle cx="1027.3" cy="1148.4" r="2.7"/><circle cx="1112.2" cy="1147.9" r="2.7"/><circle cx="1090.3" cy="1187.7" r="2.7"/><circle cx="1052.0" cy="1151.3" r="2.7"/><circle cx="1105.1" cy="1150.2" r="2.7"/><circle cx="1074.3" cy="1141.9" r="2.7"/><circle cx="1037.4" cy="1163.7" r="2.7"/><circle cx="1112.2" cy="1160.6" r="2.7"/><circle cx="1073.7" cy="1190.1" r="2.7"/><circle cx="1045.3" cy="1140.9" r="2.7"/><circle cx="1118.3" cy="1178.1" r="2.7"/><circle cx="1048.4" cy="1146.7" r="2.7"/><circle cx="1049.7" cy="1162.6" r="2.7"/><circle cx="1033.6" cy="1161.6" r="2.7"/><circle cx="1130.4" cy="1169.0" r="2.7"/><circle cx="1051.7" cy="1155.0" r="2.7"/><circle cx="1038.8" cy="1165.9" r="2.7"/><circle cx="1015.5" cy="1148.3" r="2.7"/><circle cx="1051.0" cy="1146.0" r="2.7"/><circle cx="1104.1" cy="1177.1" r="2.7"/><circle cx="1100.0" cy="1193.3" r="2.7"/><circle cx="1100.9" cy="1176.0" r="2.7"/><circle cx="1120.9" cy="1174.9" r="2.7"/><circle cx="1102.1" cy="1188.4" r="2.7"/><circle cx="1074.8" cy="1190.1" r="2.7"/><circle cx="1110.5" cy="1189.5" r="2.7"/><circle cx="1096.0" cy="1179.7" r="2.7"/><circle cx="1030.7" cy="1155.3" r="2.7"/><circle cx="1109.7" cy="1183.7" r="2.7"/><circle cx="1102.4" cy="1147.4" r="2.7"/><circle cx="1023.7" cy="1148.4" r="2.7"/><circle cx="1101.5" cy="1143.9" r="2.7"/><circle cx="1102.8" cy="1200.4" r="2.7"/><circle cx="1106.0" cy="1174.1" r="2.7"/><circle cx="1032.4" cy="1147.5" r="2.7"/><circle cx="1103.2" cy="1151.2" r="2.7"/><circle cx="1022.1" cy="1148.6" r="2.7"/><circle cx="1094.7" cy="1179.6" r="2.7"/><circle cx="1070.3" cy="1137.6" r="2.7"/><circle cx="1121.1" cy="1143.5" r="2.7"/><circle cx="1039.9" cy="1171.5" r="2.7"/><circle cx="1112.3" cy="1166.2" r="2.7"/><circle cx="1120.3" cy="1180.5" r="2.7"/><circle cx="1072.7" cy="1130.7" r="2.7"/><circle cx="1031.6" cy="1154.1" r="2.7"/><circle cx="1114.6" cy="1137.7" r="2.7"/><circle cx="1125.0" cy="1181.2" r="2.7"/><circle cx="1122.0" cy="1150.1" r="2.7"/><circle cx="1044.5" cy="1148.4" r="2.7"/><circle cx="1075.6" cy="1142.8" r="2.7"/><circle cx="1120.0" cy="1188.4" r="2.7"/><circle cx="1126.7" cy="1169.2" r="2.7"/><circle cx="1100.4" cy="1132.5" r="2.7"/><circle cx="1104.3" cy="1176.1" r="2.7"/><circle cx="1130.9" cy="1148.0" r="2.7"/><circle cx="1034.8" cy="1140.7" r="2.7"/><circle cx="1074.0" cy="1145.0" r="2.7"/><circle cx="1068.4" cy="1139.1" r="2.7"/><circle cx="1043.3" cy="1147.8" r="2.7"/><circle cx="1022.3" cy="1149.2" r="2.7"/><circle cx="1117.4" cy="1144.7" r="2.7"/><circle cx="1047.1" cy="1147.1" r="2.7"/><circle cx="1118.6" cy="1130.5" r="2.7"/><circle cx="1121.3" cy="1163.6" r="2.7"/><circle cx="1113.0" cy="1191.6" r="2.7"/><circle cx="1130.4" cy="1147.1" r="2.7"/><circle cx="1126.7" cy="1181.8" r="2.7"/><circle cx="1091.8" cy="1185.0" r="2.7"/></g>
<g fill="#000"><circle cx="1047.0" cy="1165.3" r="2.7"/><circle cx="1106.9" cy="1152.8" r="2.7"/><circle cx="1044.1" cy="1159.1" r="2.7"/><circle cx="1047.2" cy="1141.9" r="2.7"/><circle cx="1121.4" cy="1173.8" r="2.7"/><circle cx="1058.8" cy="1144.1" r="2.7"/><circle cx="1109.6" cy="1162.9" r="2.7"/><circle cx="1041.7" cy="1157.6" r="2.7"/><circle cx="1040.2" cy="1160.0" r="2.7"/><circle cx="1102.7" cy="1141.5" r="2.7"/><circle cx="1082.8" cy="1145.9" r="2.7"/><circle cx="1095.2" cy="1148.6" r="2.7"/><circle cx="1130.5" cy="1152.9" r="2.7"/><circle cx="1105.7" cy="1151.6" r="2.7"/><circle cx="1107.0" cy="1158.3" r="2.7"/><circle cx="1114.1" cy="1168.7" r="2.7"/><circle cx="1124.3" cy="1154.7" r="2.7"/><circle cx="1052.6" cy="1154.4" r="2.7"/><circle cx="1096.0" cy="1181.2" r="2.7"/><circle cx="1106.4" cy="1174.7" r="2.7"/><circle cx="1127.9" cy="1155.4" r="2.7"/><circle cx="1103.6" cy="1144.1" r="2.7"/><circle cx="1110.1" cy="1169.9" r="2.7"/><circle cx="1110.0" cy="1155.9" r="2.7"/><circle cx="1031.7" cy="1147.3" r="2.7"/><circle cx="1121.8" cy="1145.9" r="2.7"/><circle cx="1101.8" cy="1192.4" r="2.7"/><circle cx="1107.1" cy="1147.2" r="2.7"/><circle cx="1077.8" cy="1186.1" r="2.7"/><circle cx="1099.5" cy="1179.9" r="2.7"/><circle cx="1030.8" cy="1150.0" r="2.7"/><circle cx="1119.2" cy="1157.5" r="2.7"/><circle cx="1067.1" cy="1142.7" r="2.7"/><circle cx="1118.1" cy="1162.7" r="2.7"/><circle cx="1036.5" cy="1162.5" r="2.7"/><circle cx="1110.2" cy="1168.0" r="2.7"/><circle cx="1075.3" cy="1130.0" r="2.7"/><circle cx="1076.6" cy="1138.2" r="2.7"/><circle cx="1055.5" cy="1177.1" r="2.7"/><circle cx="1124.4" cy="1143.5" r="2.7"/><circle cx="1103.0" cy="1146.2" r="2.7"/><circle cx="1061.3" cy="1150.3" r="2.7"/><circle cx="1047.9" cy="1150.5" r="2.7"/><circle cx="1113.8" cy="1169.7" r="2.7"/><circle cx="1076.7" cy="1141.6" r="2.7"/><circle cx="1118.9" cy="1171.7" r="2.7"/><circle cx="1116.0" cy="1163.5" r="2.7"/><circle cx="1069.9" cy="1144.4" r="2.7"/><circle cx="1067.2" cy="1180.0" r="2.7"/><circle cx="1112.9" cy="1148.5" r="2.7"/><circle cx="1061.4" cy="1178.4" r="2.7"/><circle cx="1099.4" cy="1150.6" r="2.7"/><circle cx="1107.3" cy="1136.8" r="2.7"/><circle cx="1057.8" cy="1148.4" r="2.7"/><circle cx="1109.4" cy="1158.3" r="2.7"/><circle cx="1071.0" cy="1142.4" r="2.7"/><circle cx="1062.7" cy="1183.1" r="2.7"/><circle cx="1059.8" cy="1149.0" r="2.7"/><circle cx="1053.0" cy="1145.1" r="2.7"/><circle cx="1110.5" cy="1161.1" r="2.7"/><circle cx="1069.4" cy="1143.9" r="2.7"/><circle cx="1045.9" cy="1144.5" r="2.7"/><circle cx="1119.4" cy="1150.8" r="2.7"/><circle cx="1055.0" cy="1172.7" r="2.7"/><circle cx="1115.0" cy="1142.8" r="2.7"/><circle cx="1108.3" cy="1154.6" r="2.7"/><circle cx="1071.3" cy="1134.5" r="2.7"/><circle cx="1053.0" cy="1142.7" r="2.7"/><circle cx="1093.2" cy="1189.2" r="2.7"/><circle cx="1033.5" cy="1154.3" r="2.7"/><circle cx="1105.3" cy="1167.5" r="2.7"/><circle cx="1036.1" cy="1152.6" r="2.7"/><circle cx="1036.9" cy="1157.7" r="2.7"/><circle cx="1102.1" cy="1141.9" r="2.7"/><circle cx="1109.6" cy="1154.5" r="2.7"/><circle cx="1069.1" cy="1181.9" r="2.7"/><circle cx="1058.9" cy="1147.0" r="2.7"/><circle cx="1099.2" cy="1145.1" r="2.7"/><circle cx="1112.7" cy="1135.2" r="2.7"/><circle cx="1093.7" cy="1186.4" r="2.7"/><circle cx="1112.3" cy="1156.6" r="2.7"/><circle cx="1048.9" cy="1156.3" r="2.7"/><circle cx="1111.9" cy="1156.8" r="2.7"/><circle cx="1051.0" cy="1153.7" r="2.7"/><circle cx="1052.9" cy="1156.5" r="2.7"/><circle cx="1103.3" cy="1132.4" r="2.7"/><circle cx="1056.9" cy="1175.4" r="2.7"/><circle cx="1114.6" cy="1173.9" r="2.7"/><circle cx="1103.1" cy="1171.7" r="2.7"/><circle cx="1051.6" cy="1157.2" r="2.7"/><circle cx="1058.6" cy="1146.9" r="2.7"/><circle cx="1102.1" cy="1144.5" r="2.7"/><circle cx="1077.1" cy="1134.5" r="2.7"/><circle cx="1093.9" cy="1147.3" r="2.7"/><circle cx="1046.4" cy="1172.2" r="2.7"/><circle cx="1034.5" cy="1159.2" r="2.7"/><circle cx="1038.9" cy="1159.6" r="2.7"/><circle cx="1049.2" cy="1154.6" r="2.7"/><circle cx="1035.4" cy="1165.6" r="2.7"/><circle cx="1051.5" cy="1158.6" r="2.7"/><circle cx="1118.0" cy="1144.3" r="2.7"/><circle cx="1061.1" cy="1149.6" r="2.7"/><circle cx="1054.1" cy="1150.3" r="2.7"/><circle cx="1128.5" cy="1157.3" r="2.7"/><circle cx="1076.9" cy="1190.8" r="2.7"/><circle cx="1078.4" cy="1135.7" r="2.7"/><circle cx="1090.9" cy="1146.9" r="2.7"/><circle cx="1124.2" cy="1142.6" r="2.7"/><circle cx="1064.3" cy="1137.5" r="2.7"/><circle cx="1082.6" cy="1145.8" r="2.7"/><circle cx="1105.3" cy="1160.9" r="2.7"/><circle cx="1055.7" cy="1145.0" r="2.7"/><circle cx="1061.2" cy="1144.7" r="2.7"/><circle cx="1053.7" cy="1157.1" r="2.7"/><circle cx="1118.7" cy="1160.0" r="2.7"/><circle cx="1066.2" cy="1137.4" r="2.7"/><circle cx="1046.9" cy="1144.8" r="2.7"/><circle cx="1079.7" cy="1190.4" r="2.7"/><circle cx="1049.4" cy="1154.8" r="2.7"/><circle cx="1114.2" cy="1156.3" r="2.7"/><circle cx="1118.5" cy="1159.4" r="2.7"/><circle cx="1042.7" cy="1146.4" r="2.7"/><circle cx="1106.6" cy="1155.1" r="2.7"/><circle cx="1044.1" cy="1156.8" r="2.7"/><circle cx="1060.6" cy="1145.1" r="2.7"/><circle cx="1071.0" cy="1181.7" r="2.7"/><circle cx="1105.1" cy="1179.5" r="2.7"/><circle cx="1132.5" cy="1173.6" r="2.7"/><circle cx="1052.2" cy="1166.8" r="2.7"/><circle cx="1074.8" cy="1144.5" r="2.7"/><circle cx="1129.3" cy="1156.6" r="2.7"/><circle cx="1058.8" cy="1149.1" r="2.7"/><circle cx="1042.5" cy="1167.3" r="2.7"/><circle cx="1055.5" cy="1152.8" r="2.7"/><circle cx="1085.8" cy="1143.0" r="2.7"/><circle cx="1123.1" cy="1179.4" r="2.7"/><circle cx="1088.1" cy="1140.8" r="2.7"/><circle cx="1066.2" cy="1143.4" r="2.7"/><circle cx="1047.9" cy="1149.2" r="2.7"/><circle cx="1127.9" cy="1145.5" r="2.7"/><circle cx="1114.7" cy="1170.9" r="2.7"/><circle cx="1043.8" cy="1153.8" r="2.7"/><circle cx="1058.5" cy="1171.4" r="2.7"/><circle cx="1078.3" cy="1133.3" r="2.7"/><circle cx="1093.7" cy="1141.8" r="2.7"/><circle cx="1089.5" cy="1147.5" r="2.7"/><circle cx="1125.2" cy="1176.4" r="2.7"/><circle cx="1051.4" cy="1153.7" r="2.7"/><circle cx="1073.5" cy="1138.7" r="2.7"/><circle cx="1071.1" cy="1142.4" r="2.7"/><circle cx="1104.8" cy="1152.2" r="2.7"/><circle cx="1132.5" cy="1148.1" r="2.7"/><circle cx="1089.8" cy="1143.3" r="2.7"/><circle cx="1097.9" cy="1144.6" r="2.7"/><circle cx="1100.3" cy="1181.1" r="2.7"/><circle cx="1112.2" cy="1162.3" r="2.7"/><circle cx="1046.4" cy="1155.0" r="2.7"/><circle cx="1118.3" cy="1155.7" r="2.7"/><circle cx="1034.5" cy="1152.8" r="2.7"/><circle cx="1075.3" cy="1130.1" r="2.7"/><circle cx="1113.0" cy="1170.1" r="2.7"/><circle cx="1107.6" cy="1178.2" r="2.7"/><circle cx="1088.5" cy="1183.4" r="2.7"/><circle cx="1034.5" cy="1156.8" r="2.7"/><circle cx="1119.5" cy="1155.9" r="2.7"/><circle cx="1046.5" cy="1160.7" r="2.7"/><circle cx="1072.3" cy="1138.4" r="2.7"/><circle cx="1103.9" cy="1152.7" r="2.7"/><circle cx="1098.4" cy="1141.6" r="2.7"/><circle cx="1109.6" cy="1139.8" r="2.7"/><circle cx="1108.4" cy="1134.6" r="2.7"/><circle cx="1117.3" cy="1154.8" r="2.7"/><circle cx="1038.0" cy="1156.7" r="2.7"/><circle cx="1089.1" cy="1146.1" r="2.7"/><circle cx="1109.3" cy="1173.4" r="2.7"/><circle cx="1107.7" cy="1165.9" r="2.7"/><circle cx="1028.9" cy="1144.5" r="2.7"/><circle cx="1101.3" cy="1180.8" r="2.7"/><circle cx="1092.6" cy="1145.4" r="2.7"/><circle cx="1076.3" cy="1189.2" r="2.7"/><circle cx="1101.2" cy="1153.4" r="2.7"/><circle cx="1015.2" cy="1149.7" r="2.7"/><circle cx="1088.5" cy="1146.9" r="2.7"/><circle cx="1048.0" cy="1157.1" r="2.7"/><circle cx="1110.5" cy="1161.1" r="2.7"/><circle cx="1071.6" cy="1141.4" r="2.7"/><circle cx="1102.2" cy="1147.6" r="2.7"/><circle cx="1107.1" cy="1179.5" r="2.7"/><circle cx="1130.1" cy="1160.2" r="2.7"/><circle cx="1108.5" cy="1138.6" r="2.7"/><circle cx="1049.9" cy="1162.0" r="2.7"/><circle cx="1114.5" cy="1154.9" r="2.7"/><circle cx="1086.9" cy="1145.9" r="2.7"/><circle cx="1048.2" cy="1155.4" r="2.7"/><circle cx="1108.0" cy="1182.1" r="2.7"/><circle cx="1038.1" cy="1164.5" r="2.7"/><circle cx="1053.8" cy="1176.5" r="2.7"/><circle cx="1098.9" cy="1142.1" r="2.7"/><circle cx="1106.2" cy="1161.1" r="2.7"/><circle cx="1052.5" cy="1153.9" r="2.7"/></g>
<g fill="#000"><circle cx="1120.7" cy="988.0" r="2.7"/><circle cx="1127.3" cy="988.0" r="2.7"/><circle cx="1131.0" cy="988.0" r="2.7"/><circle cx="1139.9" cy="988.0" r="2.7"/><circle cx="1143.6" cy="988.0" r="2.7"/><circle cx="1147.3" cy="988.0" r="2.7"/><circle cx="1155.4" cy="988.0" r="2.7"/><circle cx="1167.2" cy="988.0" r="2.7"/><circle cx="1170.9" cy="988.0" r="2.7"/><circle cx="1187.9" cy="988.0" r="2.7"/><circle cx="1191.6" cy="988.0" r="2.7"/><circle cx="1195.3" cy="988.0" r="2.7"/><circle cx="1199.0" cy="988.0" r="2.7"/><circle cx="1203.4" cy="988.0" r="2.7"/><circle cx="1206.4" cy="988.0" r="2.7"/><circle cx="1221.9" cy="988.0" r="2.7"/><circle cx="1230.8" cy="988.0" r="2.7"/><circle cx="1186.0" cy="1039.7" r="2.7"/><circle cx="1208.2" cy="1046.6" r="2.7"/><circle cx="1219.7" cy="1051.5" r="2.7"/><circle cx="1187.5" cy="1054.3" r="2.7"/><circle cx="1178.4" cy="1060.9" r="2.7"/><circle cx="1209.7" cy="1062.8" r="2.7"/><circle cx="1268.0" cy="1044.8" r="2.7"/><circle cx="1182.3" cy="1084.3" r="2.7"/><circle cx="1187.5" cy="1084.3" r="2.7"/><circle cx="1192.0" cy="1088.7" r="2.7"/><circle cx="1158.0" cy="1092.8" r="2.7"/><circle cx="1120.7" cy="1092.8" r="2.7"/><circle cx="1179.1" cy="1097.1" r="2.7"/><circle cx="1206.7" cy="1100.5" r="2.7"/><circle cx="1211.5" cy="1103.5" r="2.7"/><circle cx="1141.7" cy="1104.5" r="2.7"/><circle cx="1141.0" cy="1108.4" r="2.7"/><circle cx="1184.1" cy="1109.8" r="2.7"/><circle cx="1288.3" cy="1101.3" r="2.7"/><circle cx="1115.9" cy="1114.1" r="2.7"/><circle cx="1128.7" cy="1116.8" r="2.7"/><circle cx="1091.8" cy="1117.5" r="2.7"/><circle cx="1157.2" cy="1120.5" r="2.7"/><circle cx="1142.1" cy="1104.1" r="2.7"/><circle cx="1141.3" cy="1108.1" r="2.7"/><circle cx="1184.2" cy="1110.0" r="2.7"/><circle cx="1115.8" cy="1114.0" r="2.7"/><circle cx="1094.1" cy="1123.5" r="2.7"/><circle cx="1104.8" cy="1125.8" r="2.7"/><circle cx="1120.6" cy="1123.3" r="2.7"/><circle cx="1118.1" cy="1124.4" r="2.7"/><circle cx="1134.7" cy="1126.6" r="2.7"/><circle cx="1157.2" cy="1121.4" r="2.7"/><circle cx="1161.3" cy="1127.7" r="2.7"/><circle cx="1151.3" cy="1129.9" r="2.7"/><circle cx="1187.9" cy="1128.4" r="2.7"/><circle cx="1100.7" cy="1133.2" r="2.7"/><circle cx="1116.2" cy="1129.2" r="2.7"/><circle cx="1121.0" cy="1134.3" r="2.7"/><circle cx="1142.8" cy="1136.2" r="2.7"/><circle cx="1146.9" cy="1141.0" r="2.7"/><circle cx="1140.2" cy="1142.5" r="2.7"/><circle cx="1134.3" cy="1141.0" r="2.7"/><circle cx="1129.1" cy="1142.1" r="2.7"/><circle cx="1155.4" cy="1137.7" r="2.7"/><circle cx="1153.9" cy="1147.3" r="2.7"/><circle cx="1157.6" cy="1151.7" r="2.7"/><circle cx="1159.8" cy="1157.2" r="2.7"/><circle cx="1150.2" cy="1152.8" r="2.7"/><circle cx="1144.7" cy="1153.9" r="2.7"/><circle cx="1148.0" cy="1156.9" r="2.7"/><circle cx="1135.8" cy="1153.9" r="2.7"/><circle cx="1126.9" cy="1150.6" r="2.7"/><circle cx="1130.3" cy="1150.6" r="2.7"/><circle cx="1113.6" cy="1152.8" r="2.7"/><circle cx="1118.1" cy="1157.6" r="2.7"/><circle cx="1125.5" cy="1158.3" r="2.7"/><circle cx="1129.1" cy="1158.3" r="2.7"/><circle cx="1134.3" cy="1161.3" r="2.7"/><circle cx="1140.2" cy="1161.7" r="2.7"/><circle cx="1199.7" cy="1138.8" r="2.7"/><circle cx="1202.0" cy="1138.8" r="2.7"/><circle cx="1187.6" cy="1128.5" r="2.7"/><circle cx="1051.3" cy="1118.5" r="2.7"/><circle cx="1009.2" cy="1134.3" r="2.7"/><circle cx="1084.5" cy="1118.8" r="2.7"/><circle cx="1091.2" cy="1118.1" r="2.7"/><circle cx="1093.8" cy="1123.5" r="2.7"/><circle cx="1078.6" cy="1128.8" r="2.7"/><circle cx="1079.7" cy="1132.5" r="2.7"/><circle cx="1065.0" cy="1135.8" r="2.7"/><circle cx="1089.0" cy="1135.5" r="2.7"/><circle cx="1056.8" cy="1139.9" r="2.7"/><circle cx="1043.9" cy="1139.9" r="2.7"/><circle cx="1026.2" cy="1142.5" r="2.7"/><circle cx="1017.7" cy="1148.0" r="2.7"/><circle cx="1022.5" cy="1148.0" r="2.7"/><circle cx="1029.9" cy="1147.3" r="2.7"/><circle cx="1034.3" cy="1150.6" r="2.7"/><circle cx="1042.4" cy="1143.6" r="2.7"/><circle cx="1026.9" cy="1154.7" r="2.7"/><circle cx="1068.3" cy="1138.4" r="2.7"/><circle cx="1083.1" cy="1142.1" r="2.7"/><circle cx="1061.6" cy="1143.6" r="2.7"/><circle cx="1066.8" cy="1145.0" r="2.7"/><circle cx="1120.8" cy="1093.0" r="2.7"/><circle cx="1032.1" cy="1171.4" r="2.7"/><circle cx="1034.7" cy="1174.4" r="2.7"/><circle cx="1047.2" cy="1181.0" r="2.7"/><circle cx="1043.9" cy="1191.0" r="2.7"/><circle cx="1039.5" cy="1197.6" r="2.7"/><circle cx="1044.7" cy="1198.7" r="2.7"/><circle cx="1063.1" cy="1198.7" r="2.7"/><circle cx="1060.9" cy="1190.3" r="2.7"/><circle cx="1066.8" cy="1192.8" r="2.7"/><circle cx="1041.3" cy="1207.6" r="2.7"/><circle cx="1057.9" cy="1208.3" r="2.7"/><circle cx="1063.1" cy="1211.3" r="2.7"/><circle cx="1067.5" cy="1213.5" r="2.7"/><circle cx="1072.7" cy="1206.1" r="2.7"/><circle cx="1078.6" cy="1209.1" r="2.7"/><circle cx="1074.9" cy="1212.8" r="2.7"/><circle cx="1089.0" cy="1207.6" r="2.7"/><circle cx="1093.4" cy="1191.4" r="2.7"/><circle cx="1094.9" cy="1197.3" r="2.7"/><circle cx="1097.8" cy="1201.7" r="2.7"/><circle cx="1045.8" cy="1212.0" r="2.7"/><circle cx="1136.2" cy="1153.7" r="2.7"/><circle cx="1144.7" cy="1154.1" r="2.7"/><circle cx="1148.3" cy="1156.6" r="2.7"/><circle cx="1150.6" cy="1153.7" r="2.7"/><circle cx="1159.4" cy="1157.4" r="2.7"/><circle cx="1157.9" cy="1153.0" r="2.7"/><circle cx="1135.0" cy="1161.8" r="2.7"/><circle cx="1140.2" cy="1163.3" r="2.7"/><circle cx="1156.5" cy="1167.0" r="2.7"/><circle cx="1151.3" cy="1174.4" r="2.7"/><circle cx="1132.1" cy="1173.6" r="2.7"/><circle cx="1129.9" cy="1175.1" r="2.7"/><circle cx="1104.8" cy="1171.4" r="2.7"/><circle cx="1107.7" cy="1177.3" r="2.7"/><circle cx="1109.9" cy="1189.9" r="2.7"/><circle cx="1111.4" cy="1195.1" r="2.7"/><circle cx="1117.3" cy="1190.6" r="2.7"/><circle cx="1123.2" cy="1186.9" r="2.7"/><circle cx="1117.3" cy="1197.3" r="2.7"/><circle cx="1121.0" cy="1202.4" r="2.7"/><circle cx="1121.8" cy="1208.3" r="2.7"/><circle cx="1128.4" cy="1204.3" r="2.7"/><circle cx="1131.4" cy="1209.8" r="2.7"/><circle cx="1126.9" cy="1212.0" r="2.7"/><circle cx="1134.3" cy="1198.7" r="2.7"/><circle cx="1142.8" cy="1202.4" r="2.7"/><circle cx="1147.2" cy="1207.6" r="2.7"/><circle cx="1140.2" cy="1209.1" r="2.7"/><circle cx="1094.4" cy="1191.4" r="2.7"/><circle cx="1093.7" cy="1195.8" r="2.7"/><circle cx="1099.6" cy="1200.2" r="2.7"/><circle cx="1101.8" cy="1198.0" r="2.7"/><circle cx="1090.0" cy="1207.6" r="2.7"/><circle cx="1152.8" cy="1212.8" r="2.7"/><circle cx="1156.5" cy="1212.8" r="2.7"/><circle cx="1186.8" cy="1213.5" r="2.7"/><circle cx="1157.0" cy="1165.4" r="2.7"/><circle cx="1151.1" cy="1174.3" r="2.7"/><circle cx="1041.4" cy="1207.8" r="2.7"/><circle cx="1030.3" cy="1217.4" r="2.7"/><circle cx="1034.8" cy="1218.1" r="2.7"/><circle cx="1037.7" cy="1218.1" r="2.7"/><circle cx="1045.8" cy="1212.6" r="2.7"/><circle cx="1050.3" cy="1217.4" r="2.7"/><circle cx="1058.4" cy="1208.9" r="2.7"/><circle cx="1062.8" cy="1211.8" r="2.7"/><circle cx="1065.8" cy="1214.8" r="2.7"/><circle cx="1070.2" cy="1217.0" r="2.7"/><circle cx="1073.2" cy="1220.7" r="2.7"/><circle cx="1068.7" cy="1222.2" r="2.7"/><circle cx="1059.1" cy="1223.3" r="2.7"/><circle cx="1063.6" cy="1227.0" r="2.7"/><circle cx="1077.2" cy="1227.7" r="2.7"/><circle cx="1074.7" cy="1231.0" r="2.7"/><circle cx="1079.1" cy="1209.6" r="2.7"/><circle cx="1073.2" cy="1206.6" r="2.7"/><circle cx="1088.7" cy="1208.1" r="2.7"/><circle cx="1099.8" cy="1201.5" r="2.7"/><circle cx="1121.2" cy="1203.0" r="2.7"/><circle cx="1121.9" cy="1208.9" r="2.7"/><circle cx="1127.1" cy="1213.3" r="2.7"/><circle cx="1076.1" cy="1214.8" r="2.7"/><circle cx="1076.1" cy="1219.2" r="2.7"/><circle cx="1070.5" cy="1225.0" r="2.7"/><circle cx="1072.0" cy="1214.0" r="2.7"/><circle cx="1111.8" cy="1196.1" r="2.7"/><circle cx="1117.4" cy="1198.0" r="2.7"/><circle cx="1121.1" cy="1202.8" r="2.7"/><circle cx="1121.4" cy="1209.0" r="2.7"/><circle cx="1128.5" cy="1204.6" r="2.7"/><circle cx="1131.4" cy="1209.8" r="2.7"/><circle cx="1126.6" cy="1213.1" r="2.7"/><circle cx="1134.7" cy="1198.7" r="2.7"/><circle cx="1142.9" cy="1202.8" r="2.7"/><circle cx="1146.9" cy="1207.9" r="2.7"/><circle cx="1139.5" cy="1209.4" r="2.7"/><circle cx="1141.0" cy="1212.7" r="2.7"/><circle cx="1142.9" cy="1216.8" r="2.7"/><circle cx="1150.3" cy="1214.2" r="2.7"/><circle cx="1154.3" cy="1212.7" r="2.7"/><circle cx="1150.3" cy="1217.2" r="2.7"/><circle cx="1159.9" cy="1216.4" r="2.7"/><circle cx="1150.3" cy="1223.8" r="2.7"/><circle cx="1135.8" cy="1227.5" r="2.7"/><circle cx="1144.3" cy="1227.5" r="2.7"/><circle cx="1152.1" cy="1230.1" r="2.7"/><circle cx="1156.5" cy="1243.4" r="2.7"/><circle cx="1171.3" cy="1223.8" r="2.7"/><circle cx="1169.1" cy="1226.4" r="2.7"/><circle cx="1170.6" cy="1232.7" r="2.7"/><circle cx="1186.8" cy="1214.6" r="2.7"/><circle cx="1185.0" cy="1216.8" r="2.7"/><circle cx="1194.6" cy="1221.2" r="2.7"/><circle cx="1195.3" cy="1224.9" r="2.7"/><circle cx="1194.6" cy="1229.3" r="2.7"/></g>
<g fill="#e32527"><circle cx="1152.0" cy="987.8" r="3.9"/><circle cx="1178.8" cy="987.8" r="3.9"/><circle cx="1212.6" cy="987.8" r="3.9"/><circle cx="1240.4" cy="987.8" r="3.9"/><circle cx="1252.2" cy="987.8" r="3.9"/><circle cx="1213.4" cy="1042.5" r="3.9"/><circle cx="1165.4" cy="1069.9" r="3.9"/><circle cx="1151.8" cy="1102.7" r="3.9"/><circle cx="1124.0" cy="1114.6" r="3.9"/><circle cx="1205.0" cy="1122.6" r="3.9"/><circle cx="1288.0" cy="1118.3" r="3.9"/></g>
<g fill="#fdb71c"><circle cx="1287.9" cy="987.2" r="8.0"/></g>
</svg></body></html>
